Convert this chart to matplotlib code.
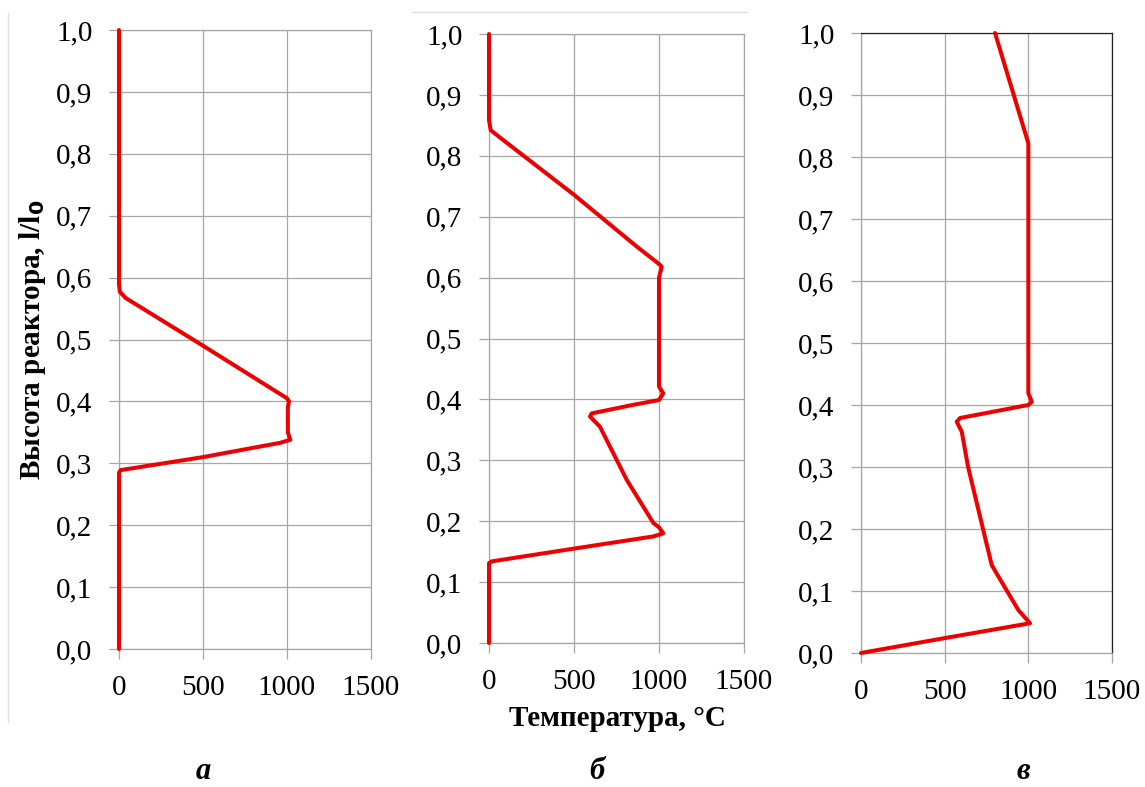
import matplotlib
matplotlib.use("Agg")
import matplotlib.pyplot as plt
from matplotlib.lines import Line2D
from matplotlib.ticker import FuncFormatter

plt.rcParams['font.family'] = ['Liberation Serif', 'DejaVu Serif']

# temperature profiles (T, degC) over relative reactor height (l/l0)
height_a = [0.0, 0.285, 0.289, 0.31, 0.333, 0.338, 0.35, 0.39, 0.40, 0.405, 0.49, 0.567, 0.577, 0.59, 1.0]
temp_a = [0, 0, 10, 500, 958, 1020, 1005, 1005, 1012, 1000, 500, 40, 5, 0, 0]

height_b = [0.0, 0.131, 0.134, 0.155, 0.175, 0.180, 0.190, 0.197, 0.268, 0.355, 0.372, 0.377,
            0.391, 0.399, 0.41, 0.421, 0.60, 0.618, 0.623, 0.651, 0.736, 0.826, 0.842, 0.859, 1.0]
temp_b = [0, 0, 16, 500, 967, 1025, 1000, 967, 810, 653, 594, 604,
          847, 1000, 1025, 1000, 1000, 1016, 997, 869, 500, 83, 10, 0, 0]

height_c = [0.0, 0.024, 0.048, 0.069, 0.128, 0.142, 0.30, 0.357, 0.373, 0.379, 0.40, 0.405,
            0.419, 0.424, 0.822, 1.0]
temp_c = [0, 500, 1010, 941, 811, 781, 640, 602, 572, 592, 1000, 1021,
          1000, 1000, 1000, 801]

x_ticks = [0, 500, 1000, 1500]
y_ticks = [i / 10 for i in range(11)]
panel_letters = ['а', 'б', 'в']

fig = plt.figure(figsize=(11.45, 7.87), dpi=100)
W, H = 1145, 787

# axes boxes in pixels: left, right, top, bottom
boxes = [(119, 371, 30, 649), (489, 744, 34, 643), (861, 1112, 33, 653)]
profiles = [(temp_a, height_a), (temp_b, height_b), (temp_c, height_c)]
letter_x = [203, 597, 1023]

grid_col = '#a6a6a6'
comma = FuncFormatter(lambda v, p: f"{v:.1f}".replace('.', ','))

for i, ((l, r, t, b), (temp, hgt)) in enumerate(zip(boxes, profiles)):
    ax = fig.add_axes([l / W, 1 - b / H, (r - l) / W, (b - t) / H])
    ax.plot(temp, hgt, color='#ee0000', lw=2.9, solid_joinstyle='round',
            solid_capstyle='round', zorder=5, clip_on=False)
    ax.set_xlim(0, 1500)
    ax.set_ylim(0, 1)
    ax.set_xticks(x_ticks)
    ax.set_yticks(y_ticks)
    ax.yaxis.set_major_formatter(comma)
    ax.grid(True, color=grid_col, lw=0.9)
    ax.set_axisbelow(True)
    ax.tick_params(direction='out', length=7, width=0.9, color=grid_col,
                   labelsize=21, pad=12)
    for s in ax.spines.values():
        s.set_color(grid_col)
        s.set_linewidth(0.9)
    if i == 2:
        ax.spines['top'].set_color('#222222')
        ax.spines['right'].set_color('#222222')
    fig.text(letter_x[i] / W, 1 - 779 / H, panel_letters[i], fontsize=22,
             fontweight='bold', fontstyle='italic', ha='center', va='baseline')

fig.text(33 / W, 1 - 340 / H, 'Высота реактора, l/l$_\\mathbf{0}$', rotation=90,
         fontsize=21, fontweight='bold', ha='center', va='center')
fig.text(617 / W, 1 - 718 / H, 'Температура, °С', fontsize=21, fontweight='bold',
         ha='center', va='center')

# faint frame fragments from the original scan
fig.add_artist(Line2D([8 / W, 8 / W], [1 - 13 / H, 1 - 722 / H], color='#e0e0e0', lw=1))
fig.add_artist(Line2D([412 / W, 747 / W], [1 - 12 / H, 1 - 12 / H], color='#e0e0e0', lw=1))

fig.savefig('out.png', dpi=100)
